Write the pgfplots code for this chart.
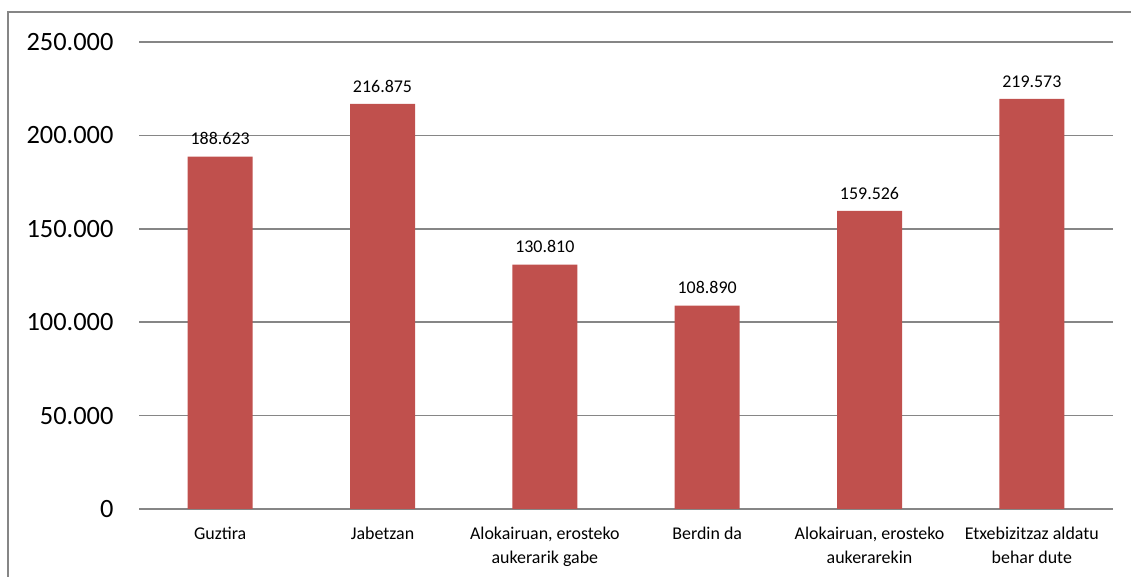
\documentclass[border=0pt]{standalone}
\usepackage{pgfplots}
\pgfplotsset{compat=1.18}
\usepackage{fontspec}
\setmainfont{Carlito}
\definecolor{barred}{HTML}{C0504D}
\definecolor{gridgray}{HTML}{868686}
\begin{document}
\begin{tikzpicture}[x=1bp,y=1bp]
\useasboundingbox (0,0) rectangle (1131,577);
\draw[gridgray, line width=1.2bp] (8,-5) -- (8,565) -- (1140,565);
\begin{axis}[
  at={(139bp,68bp)}, anchor=south west,
  scale only axis, width=974bp, height=467bp,
  ymin=0, ymax=250000, xmin=-0.5, xmax=5.5,
  enlargelimits=false,
  ybar, bar width=65bp,
  axis line style={draw=none},
  ymajorgrids, grid style={gridgray, line width=1.5bp},
  major tick length=0pt,
  ytick={0,50000,100000,150000,200000,250000},
  scaled y ticks=false,
  /pgf/number format/.cd, fixed, 1000 sep={.}, assume math mode=true, /pgfplots/.cd,
  yticklabel style={font=\fontsize{26.5}{26}\selectfont, xshift=-22bp},
  xtick=data,
  xticklabels={Guztira, Jabetzan, {Alokairuan, erosteko\\aukerarik gabe}, Berdin da, {Alokairuan, erosteko\\aukerarekin}, {Etxebizitzaz aldatu\\behar dute}},
  xticklabel style={font=\fontsize{18}{24}\selectfont, align=center, yshift=-15bp},
  nodes near coords,
  nodes near coords style={font=\fontsize{18}{18}\selectfont, text=black, yshift=8bp},
]
\addplot[fill=barred, draw=none] coordinates {(0,188623) (1,216875) (2,130810) (3,108890) (4,159526) (5,219573)};
\end{axis}
\end{tikzpicture}
\end{document}
